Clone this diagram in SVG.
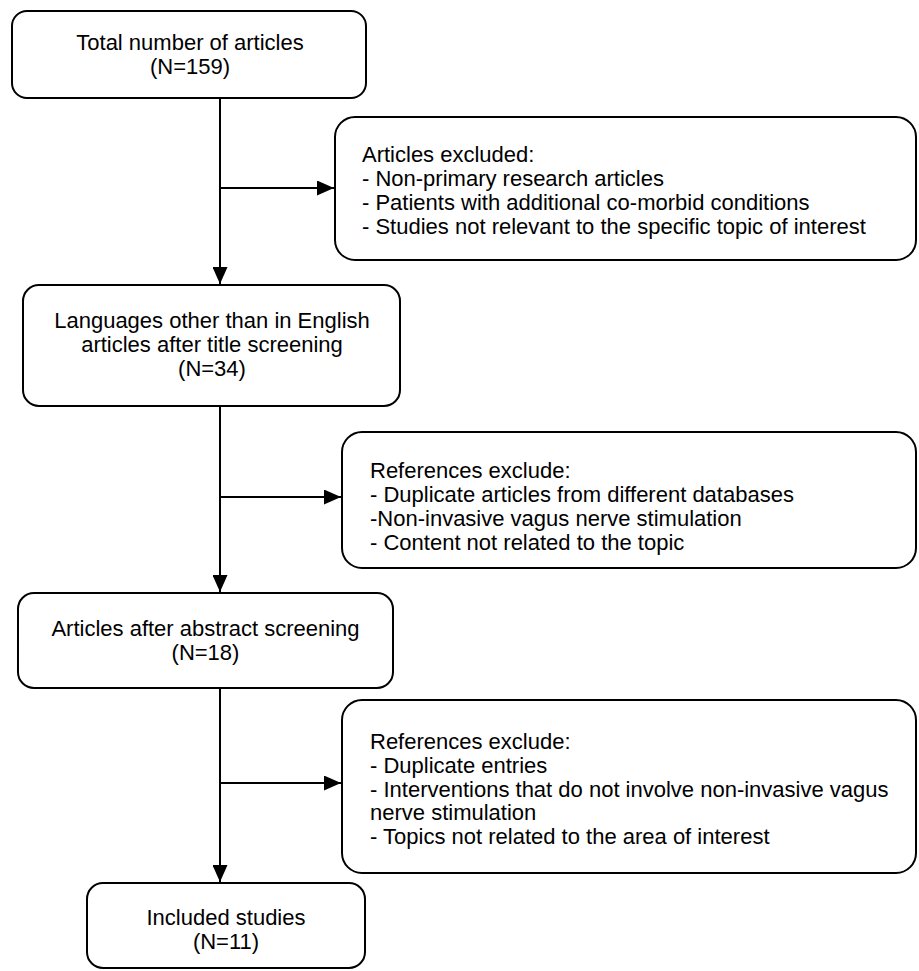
<svg xmlns="http://www.w3.org/2000/svg" width="919" height="971" viewBox="0 0 919 971">
<style>
.box{fill:#fff;stroke:#000;stroke-width:2}
.t{font-family:"Liberation Sans",Arial,sans-serif;font-size:22px;fill:#000}
.c{text-anchor:middle}
.ln{stroke:#000;stroke-width:2;fill:none}
</style>
<defs>
<marker id="ah" markerUnits="userSpaceOnUse" markerWidth="17" markerHeight="15" refX="17" refY="7.5" orient="auto">
<path d="M0,0 L17,7.5 L0,15 z" fill="#000"/>
</marker>
</defs>
<rect width="919" height="971" fill="#fff"/>
<g id="connectors">
<line class="ln" x1="220" y1="98" x2="220" y2="284" marker-end="url(#ah)"/>
<line class="ln" x1="220" y1="188" x2="334" y2="188" marker-end="url(#ah)"/>
<line class="ln" x1="220" y1="406" x2="220" y2="592" marker-end="url(#ah)"/>
<line class="ln" x1="220" y1="497" x2="341" y2="497" marker-end="url(#ah)"/>
<line class="ln" x1="220" y1="688" x2="220" y2="882" marker-end="url(#ah)"/>
<line class="ln" x1="220" y1="783" x2="341" y2="783" marker-end="url(#ah)"/>
</g>
<g id="total">
<rect class="box" x="12" y="11" width="354" height="87" rx="15"/>
<text class="t c" x="190" y="50">Total number of articles</text>
<text class="t c" x="190" y="74">(N=159)</text>
</g>
<g id="excluded1">
<rect class="box" x="335" y="117" width="581" height="143" rx="20"/>
<text class="t" x="362" y="162">Articles excluded:</text>
<text class="t" x="362" y="186">- Non-primary research articles</text>
<text class="t" x="362" y="210">- Patients with additional co-morbid conditions</text>
<text class="t" x="362" y="234">- Studies not relevant to the specific topic of interest</text>
</g>
<g id="languages">
<rect class="box" x="23" y="285" width="377" height="121" rx="16"/>
<text class="t c" x="212" y="328">Languages other than in English</text>
<text class="t c" x="212" y="352">articles after title screening</text>
<text class="t c" x="212" y="376">(N=34)</text>
</g>
<g id="excluded2">
<rect class="box" x="342" y="432" width="574" height="136" rx="20"/>
<text class="t" x="370" y="478">References exclude:</text>
<text class="t" x="370" y="502">- Duplicate articles from different databases</text>
<text class="t" x="370" y="526">-Non-invasive vagus nerve stimulation</text>
<text class="t" x="370" y="550">- Content not related to the topic</text>
</g>
<g id="abstract">
<rect class="box" x="18" y="593" width="375" height="95" rx="16"/>
<text class="t c" x="205.5" y="636">Articles after abstract screening</text>
<text class="t c" x="205.5" y="660">(N=18)</text>
</g>
<g id="excluded3">
<rect class="box" x="342" y="700" width="574" height="173" rx="20"/>
<text class="t" x="370" y="749">References exclude:</text>
<text class="t" x="370" y="773">- Duplicate entries</text>
<text class="t" x="370" y="797">- Interventions that do not involve non-invasive vagus</text>
<text class="t" x="370" y="820">nerve stimulation</text>
<text class="t" x="370" y="844">- Topics not related to the area of interest</text>
</g>
<g id="included">
<rect class="box" x="87" y="883" width="278" height="85" rx="16"/>
<text class="t c" x="226" y="925">Included studies</text>
<text class="t c" x="226" y="949">(N=11)</text>
</g>
</svg>
